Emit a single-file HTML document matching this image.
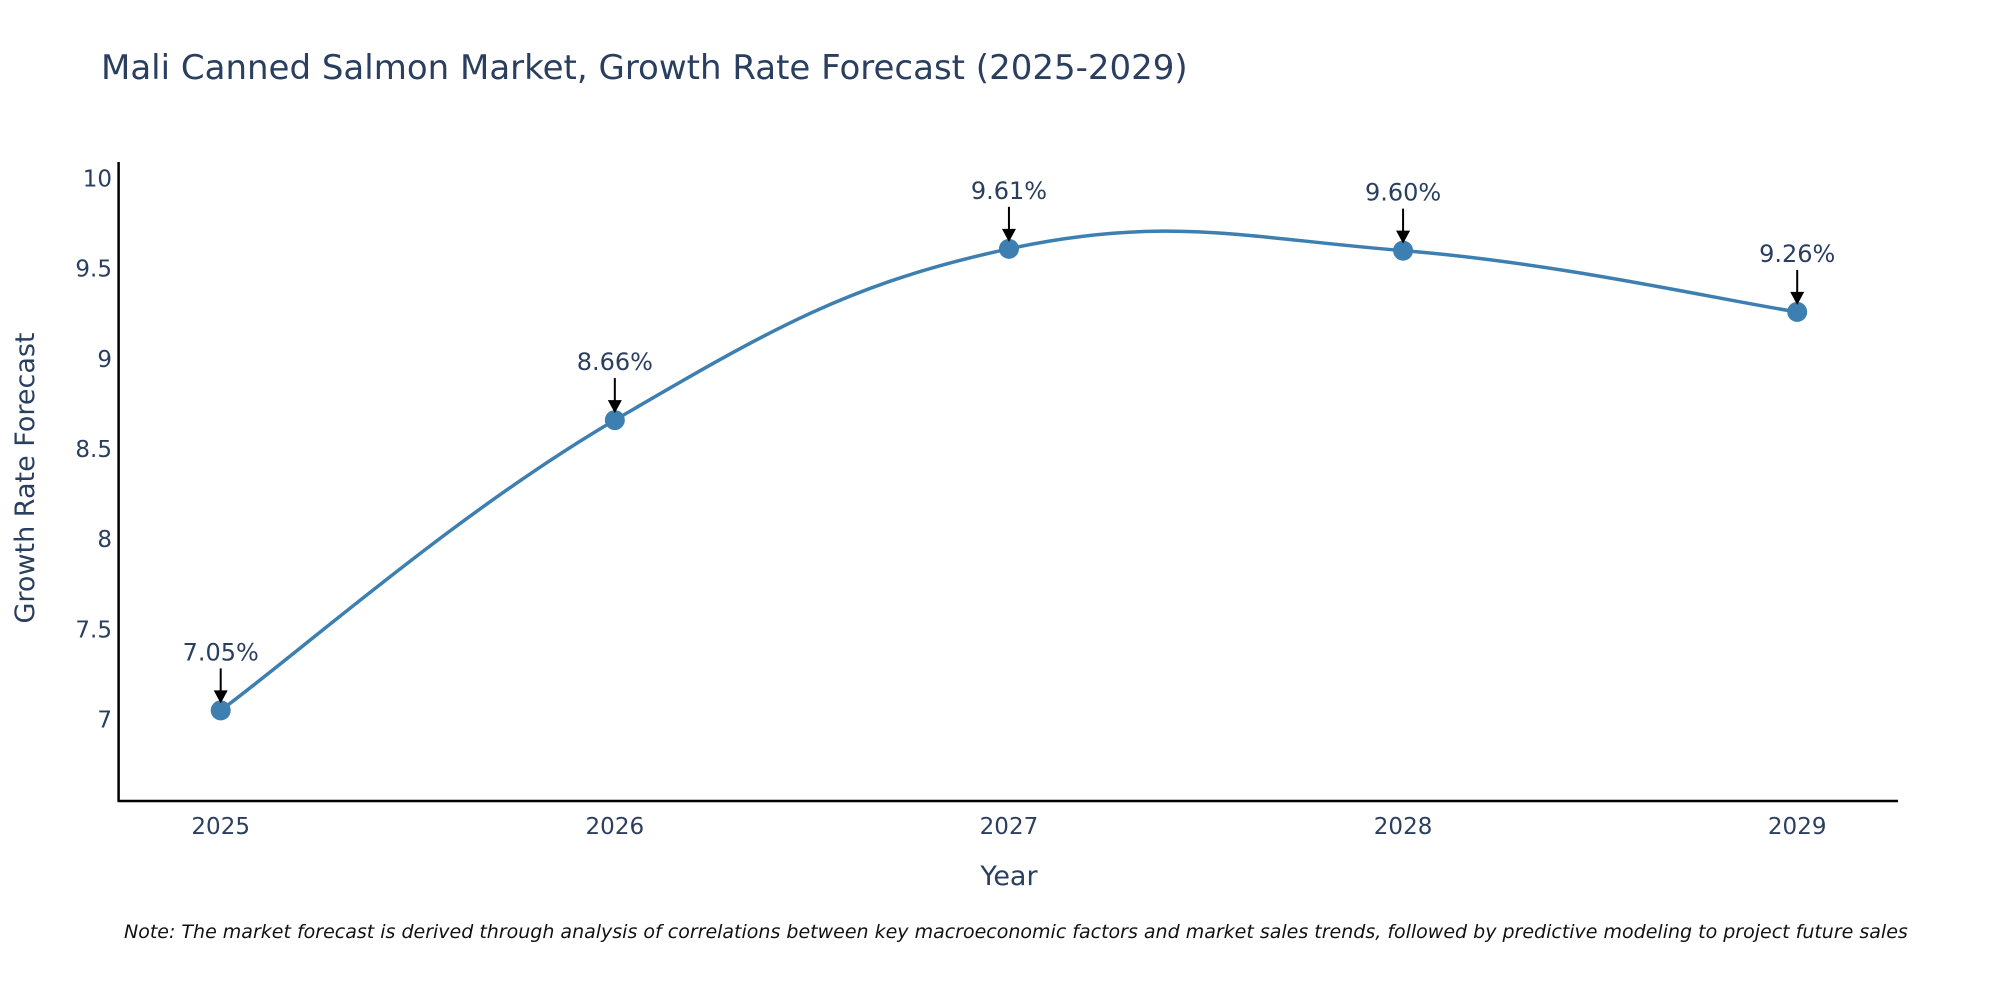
<!DOCTYPE html>
<html><head><meta charset="utf-8"><style>
body{margin:0;background:#fff;}
svg text{font-family:"DejaVu Sans","Liberation Sans",sans-serif;fill:#2a3f5f;}
</style></head><body>
<svg width="2000" height="1000" xmlns="http://www.w3.org/2000/svg">
<text x="101" y="79" font-size="34">Mali Canned Salmon Market, Growth Rate Forecast (2025-2029)</text>
<g id="yticks"></g><g id="xticks"></g>
<line x1="118.6" y1="162" x2="118.6" y2="801" stroke="#000" stroke-width="2.5"/>
<line x1="117.5" y1="801" x2="1898" y2="801" stroke="#000" stroke-width="2.5"/>
<path id="line" fill="none" stroke="#3d7fb0" stroke-width="3.5"/>
<g id="marks"></g>
<text x="0" y="0" font-size="27" text-anchor="middle" transform="translate(34,478) rotate(-90)">Growth Rate Forecast</text>
<text x="1009" y="885" font-size="27" text-anchor="middle">Year</text>
<text x="124" y="938" font-size="19" font-style="italic" style="fill:#111">Note: The market forecast is derived through analysis of correlations between key macroeconomic factors and market sales trends, followed by predictive modeling to project future sales</text>
</svg>
<script>
const years=[2025,2026,2027,2028,2029];
const values=[7.05,8.66,9.61,9.60,9.26];
const labels=["7.05%","8.66%","9.61%","9.60%","9.26%"];
const yTicks=[7,7.5,8,8.5,9,9.5,10];
const NS="http://www.w3.org/2000/svg";
const xs=v=>220.7+(v-2025)*(1797.2-220.7)/4;
const ys=v=>719.4-(v-7)*180.3;
const yt=document.getElementById('yticks');
yTicks.forEach(t=>{const e=document.createElementNS(NS,'text');


e.setAttribute('x',112);e.setAttribute('y',ys(t)+8);e.setAttribute('font-size','23');e.setAttribute('text-anchor','end');e.textContent=String(t);yt.appendChild(e);});
const xt=document.getElementById('xticks');
years.forEach(t=>{const e=document.createElementNS(NS,'text');


e.setAttribute('x',xs(t));e.setAttribute('y',834);e.setAttribute('font-size','23');e.setAttribute('text-anchor','middle');e.textContent=String(t);xt.appendChild(e);});
const P=years.map((y,i)=>[xs(y),ys(values[i])]);
let d=`M${P[0][0]},${P[0][1]}`;const k=0.2;
for(let i=0;i<P.length-1;i++){const p0=P[Math.max(i-1,0)],p1=P[i],p2=P[i+1],p3=P[Math.min(i+2,P.length-1)];
const c1=[p1[0]+(p2[0]-p0[0])*k,p1[1]+(p2[1]-p0[1])*k],c2=[p2[0]-(p3[0]-p1[0])*k,p2[1]-(p3[1]-p1[1])*k];
d+=` C${c1[0]},${c1[1]} ${c2[0]},${c2[1]} ${p2[0]},${p2[1]}`;}
document.getElementById('line').setAttribute('d',d);
const g=document.getElementById('marks');
P.forEach((p,i)=>{
const c=document.createElementNS(NS,'circle');


c.setAttribute('cx',p[0]);c.setAttribute('cy',p[1]);c.setAttribute('r',10);c.setAttribute('fill','#3d7fb0');g.appendChild(c);
const l=document.createElementNS(NS,'line');


l.setAttribute('x1',p[0]);l.setAttribute('y1',p[1]-42);l.setAttribute('x2',p[0]);l.setAttribute('y2',p[1]-18);l.setAttribute('stroke','#000');l.setAttribute('stroke-width','2');g.appendChild(l);
const a=document.createElementNS(NS,'path');


a.setAttribute('d',`M${p[0]-7},${p[1]-20} L${p[0]+7},${p[1]-20} L${p[0]},${p[1]-7} Z`);a.setAttribute('fill','#000');g.appendChild(a);
const t=document.createElementNS(NS,'text');


t.setAttribute('x',p[0]);t.setAttribute('y',p[1]-50);t.setAttribute('font-size','24');t.setAttribute('text-anchor','middle');t.textContent=labels[i];g.appendChild(t);
});
</script>
</body></html>
